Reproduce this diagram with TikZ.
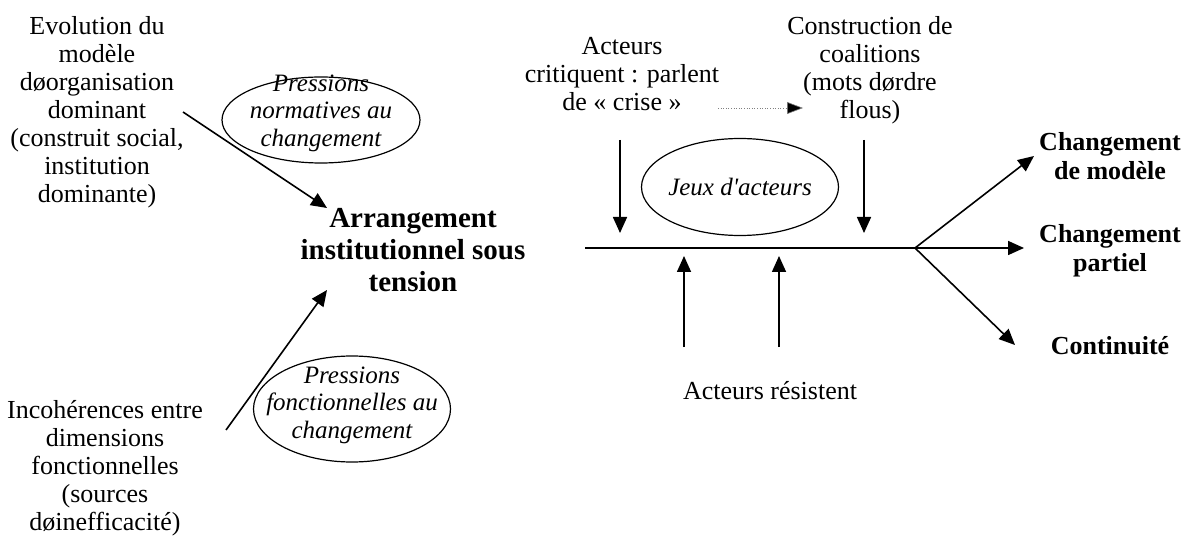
\documentclass[tikz,border=0pt]{standalone}
\usepackage{fontspec}
\setmainfont{Liberation Serif}
\usetikzlibrary{arrows.meta,shapes.geometric}
\tikzset{
  txt/.style={align=center, inner sep=0pt, font=\fontsize{13}{14}\selectfont},
  res/.style={align=center, inner sep=0pt, font=\fontsize{13}{14.5}\selectfont\bfseries},
  ital/.style={align=center, inner sep=0pt, font=\fontsize{12.5}{13.8}\selectfont\itshape},
  ell/.style={draw, ellipse, line width=0.6pt, inner sep=0pt},
  arr/.style={line width=0.8pt, -{Triangle[length=8pt,width=7pt]}},
  plain/.style={line width=0.8pt},
}
\begin{document}
\begin{tikzpicture}[x=0.5pt,y=-0.5pt]
\useasboundingbox (0,0) rectangle (1192,550);
% left texts
\node[txt] (evol) at (97,112) {Evolution du\\modèle\\døorganisation\\dominant\\(construit social,\\institution\\dominante)};
\node[txt] (inco) at (105,468) {Incohérences entre\\dimensions\\fonctionnelles\\(sources\\døinefficacité)};
% ellipses
\node[ell, minimum width=99pt, minimum height=43pt] (e1) at (321,120) {};
\node[ital] at (321,113) {Pressions\\normatives au\\changement};
\node[ell, minimum width=98.5pt, minimum height=53pt] (e2) at (352,409) {};
\node[ital] at (352,405) {Pressions\\fonctionnelles au\\changement};
% main
\node[align=center, inner sep=0pt, font=\fontsize{14.5}{16}\selectfont\bfseries] (main) at (413,250) {Arrangement\\institutionnel sous\\tension};
\coordinate (a1s) at (183,112);
\coordinate (a1e) at (327,208);
\coordinate (a2s) at (226,430);
\coordinate (a2e) at (327,290);
\draw[arr] (a1s) -- (a1e);
\draw[arr] (a2s) -- (a2e);
% top
\node[txt] (crit) at (622,74) {Acteurs\\critiquent : parlent\\de « crise »};
\node[txt] (coal) at (870,70) {Construction de\\coalitions\\(mots dørdre\\flous)};
\coordinate (ds) at (718,108);
\coordinate (de) at (803,108);
\draw[line width=0.3pt, gray, densely dotted, -{Triangle[length=8pt,width=6pt,fill=black]}] (ds) -- (de);
\node[ell, minimum width=98.5pt, minimum height=48.5pt] (jeux) at (740,187) {};
\node[ital] at (jeux.center) {Jeux d\textquotesingle acteurs};
% horizontal line
\coordinate (hl) at (585,248);
\coordinate (br) at (915,248);
\draw[plain] (hl) -- (br);
\coordinate (d1s) at (620,140); \coordinate (d1e) at (620,233);
\coordinate (d2s) at (864,140); \coordinate (d2e) at (864,233);
\draw[arr] (d1s) -- (d1e);
\draw[arr] (d2s) -- (d2e);
\coordinate (u1s) at (684,347); \coordinate (u1e) at (684,256);
\coordinate (u2s) at (779,347); \coordinate (u2e) at (779,256);
\draw[arr] (u1s) -- (u1e);
\draw[arr] (u2s) -- (u2e);
\node[txt] (resist) at (770,391) {Acteurs résistent};
% outcomes
\node[res] (cm) at (1110,156) {Changement\\de modèle};
\node[res] (cp) at (1110,251) {Changement\\partiel};
\node[res] (ct) at (1110,346) {Continuité};
\coordinate (o1) at (1034,156);
\coordinate (o2) at (1024,248);
\coordinate (o3) at (1015,345);
\draw[arr] (br) -- (o1);
\draw[arr] (br) -- (o2);
\draw[arr] (br) -- (o3);
\end{tikzpicture}
\end{document}
